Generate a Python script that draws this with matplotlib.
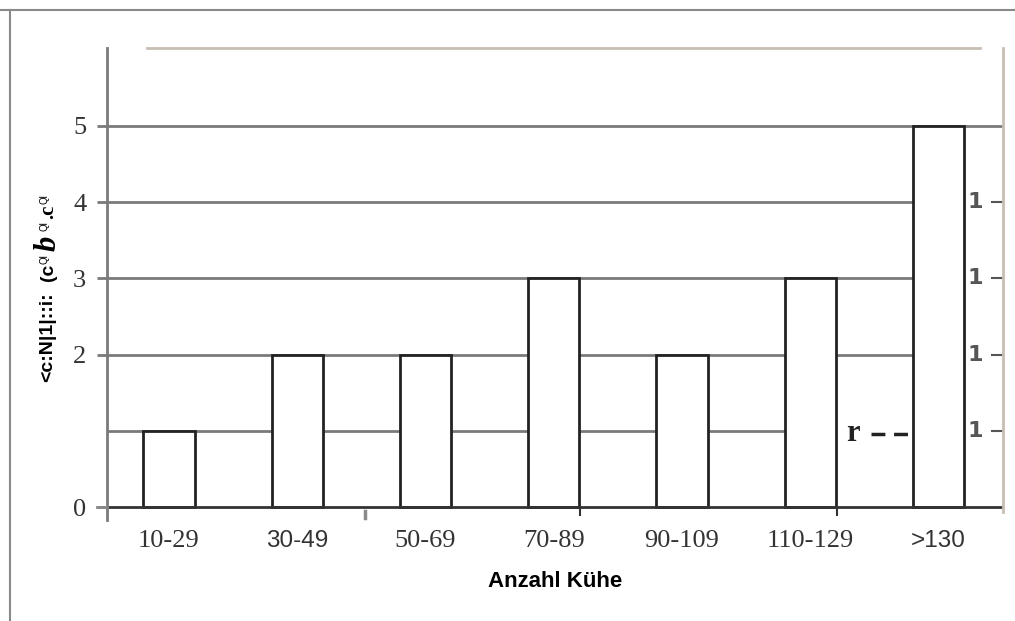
import numpy as np
import matplotlib
matplotlib.use('Agg')
from matplotlib import pyplot as plt
from matplotlib.lines import Line2D

''' Anzahl Betriebe je Herdengroesse (Kuehe) '''

categories = ['10-29', '30-49', '50-69', '70-89', '90-109', '110-129', '>130']
cat_fonts = ['Liberation Serif', 'Liberation Sans', 'Liberation Serif', 'Liberation Serif',
             'Liberation Serif', 'Liberation Serif', 'Liberation Sans']
values = [1, 2, 2, 3, 2, 3, 5]
ytick_vals = [0, 2, 3, 4, 5]
grid_levels = [1, 2, 3, 4, 5]
grid_ends = [4.8, 5.8, 5.8, 5.8, 6.5]
right_levels = [4, 3, 2, 1]
right_labels = ['1', '1', '1', '1']

W, H = 1015, 621
fig = plt.figure(figsize=(W / 100, H / 100), dpi=100)
fig.patch.set_facecolor('white')


def px(x, y):
    '''pixel position -> figure fraction'''
    return x / W, 1 - y / H


# axes: left spine at 107px, right edge 1003px, y=0 at 507px
ax = fig.add_axes([107 / W, (H - 520) / H, (1003 - 107) / W, (520 - 48) / H])
ax.set_xlim(-0.483, 6.503)
ax.set_ylim(-0.17, 6.02)
x = np.arange(len(categories))

ax.hlines(grid_levels, -0.483, grid_ends, colors='#7a7a7a', lw=2, zorder=1)
ax.bar(x, values, width=0.4, color='white', edgecolor='#222222', lw=2, zorder=2)
ax.axhline(0, color='#333333', lw=2, zorder=3)

for s in ['top', 'right', 'bottom']:
    ax.spines[s].set_visible(False)
ax.spines['left'].set_color('#7a7a7a')
ax.spines['left'].set_linewidth(2)

ax.set_yticks(ytick_vals)
ax.set_yticklabels([str(v) for v in ytick_vals], family='Liberation Serif', fontsize=19, color='#333333')
ax.tick_params(axis='y', length=7, width=2, color='#7a7a7a', pad=8)

ax.set_xticks(x)
ax.set_xticklabels(categories, color='#333333')
for lab, fam in zip(ax.get_xticklabels(), cat_fonts):
    lab.set_family(fam)
    lab.set_fontsize(19 if 'Serif' in fam else 17.5)
ax.tick_params(axis='x', length=0, pad=7)

ax.set_xlabel('Anzahl Kühe', family='Liberation Sans', fontsize=16, fontweight='bold', labelpad=14)

# right side labels
for lv, lb in zip(right_levels, right_labels):
    ax.text(6.29, lv, lb, ha='center', va='center', fontsize=16, fontweight='bold', color='#555555')
    ax.plot([6.42, 6.50], [lv, lv], color='#555555', lw=1.5, clip_on=False)
ax.text(5.33, 1 - 0.04, 'r', ha='center', va='center', fontsize=22, fontweight='bold',
        family='Liberation Serif', color='#222222')
ax.plot([5.47, 5.82], [0.96, 0.96], color='#222222', lw=2.5, ls=(0, (4, 2.5)))

# garbled y label
fig.text(*px(48, 382), '<c:N|1|::i:', rotation=90, ha='center', va='bottom',
         fontsize=14, fontweight='bold', family='Liberation Sans')
fig.text(*px(48, 272), '(c', rotation=90, ha='center', va='center',
         fontsize=14, fontweight='bold', family='Liberation Sans')
fig.text(*px(44, 259), 'Ql', rotation=90, ha='center', va='center', fontsize=7, family='Liberation Sans')
fig.text(*px(48, 243), 'b', rotation=90, ha='center', va='center', fontsize=22,
         fontweight='bold', style='italic', family='Liberation Serif')
fig.text(*px(44, 226), 'Ql', rotation=90, ha='center', va='center', fontsize=7, family='Liberation Sans')
fig.text(*px(48, 212), '.c', rotation=90, ha='center', va='center', fontsize=15,
         fontweight='bold', family='Liberation Serif')
fig.text(*px(44, 199), 'Ql', rotation=90, ha='center', va='center', fontsize=7, family='Liberation Sans')

# frame lines and stray marks
tan = '#c8bfb3'
gray = '#8a8a8a'
lines = [
    ([0, 1015], [10, 10], gray, 1.5),
    ([10, 10], [10, 621], gray, 1.5),
    ([147, 980], [48, 48], tan, 2),
    ([1003, 1003], [48, 512], tan, 2),
    ([365, 365], [511, 518], gray, 2.5),
    ([580, 580], [507, 515], '#333333', 1.5),
    ([837, 837], [507, 515], '#333333', 1.5),
    ([97, 107], [507, 507], gray, 2),
]
for xs, ys, c, lw in lines:
    fig.add_artist(Line2D([v / W for v in xs], [1 - v / H for v in ys], color=c, lw=lw))

fig.savefig('out.png', dpi=100)
